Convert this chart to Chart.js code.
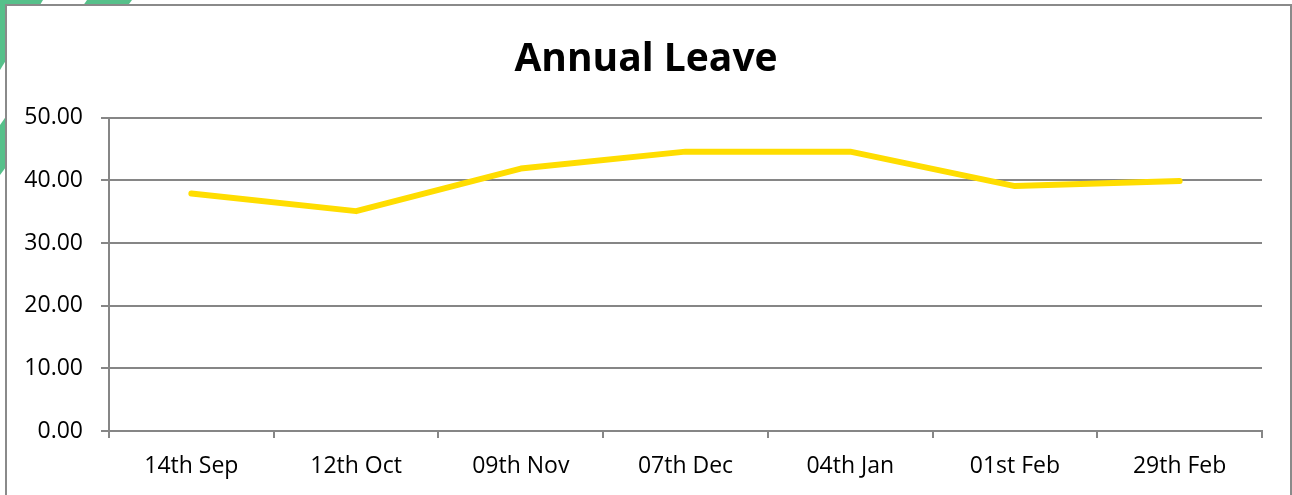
<!DOCTYPE html>
<html>
<head>
<meta charset="utf-8">
<script src="https://cdn.jsdelivr.net/npm/chart.js@4/dist/chart.umd.min.js"></script>
<style>
  body { margin: 0; background: #fff; overflow: hidden; }
  .deco1 { position: absolute; left: 0; top: 0; width: 200px; height: 200px; background: #56c08a;
           clip-path: polygon(0 0, 43px 0, 0 70px); }
  .deco2 { position: absolute; left: 0; top: 0; width: 200px; height: 200px; background: #56c08a;
           clip-path: polygon(87px 0, 132px 0, 0 175px, 0 125px); }
  .frame { position: absolute; left: 5px; top: 4px; width: 1283px; height: 520px;
           border: 2px solid #8a8a8a; background: #fff; }
  .wrap { position: absolute; left: 0; top: 0; width: 1292px; height: 495px; }
</style>
</head>
<body>
<div class="deco1"></div>
<div class="deco2"></div>
<div class="frame"></div>
<div class="wrap"><canvas id="leaveChart"></canvas></div>
<script>
// dados do gráfico
const categories = ['14th Sep', '12th Oct', '09th Nov', '07th Dec', '04th Jan', '01st Feb', '29th Feb'];
const leaveValues = [37.9, 35.1, 41.9, 44.6, 44.6, 39.1, 39.9];
const yTicks = [0, 10, 20, 30, 40, 50];

const gray = '#868686';

// centraliza o título na largura toda do canvas
const fullWidthTitle = {
    id: 'fullWidthTitle',
    afterLayout(chart) {
        const t = chart.titleBlock;
        if (t) { t.left = 0; t.right = chart.width; t.width = chart.width; }
    }
};

const ctx = document.getElementById('leaveChart').getContext('2d');
const leaveChart = new Chart(ctx, {
    type: 'line',
    data: {
        labels: categories,
        datasets: [{
            label: 'Annual Leave',
            data: leaveValues,
            borderColor: '#FFDD00',
            borderWidth: 6,
            borderCapStyle: 'round',
            borderJoinStyle: 'round',
            pointRadius: 0,
            tension: 0,
            fill: false
        }]
    },
    options: {
        responsive: true,
        maintainAspectRatio: false,
        animation: false,
        layout: { padding: { left: 0, right: 30, top: 0, bottom: 0 } },
        plugins: {
            legend: { display: false },
            tooltip: { enabled: false },
            title: {
                display: true,
                text: 'Annual Leave',
                color: '#000',
                font: { family: 'Open Sans', size: 39, weight: 'bold' },
                padding: { top: 36, bottom: 35 }
            }
        },
        scales: {
            x: {
                offset: true,
                grid: { display: true, drawOnChartArea: false, drawTicks: true, tickLength: 7, offset: true, color: gray, lineWidth: 2 },
                border: { display: true, color: gray, width: 2 },
                ticks: { color: '#000', font: { family: 'Open Sans', size: 23 }, padding: 15, maxRotation: 0, autoSkip: false },
                afterFit: (scale) => { scale.height = 64; }
            },
            y: {
                min: yTicks[0],
                max: yTicks[yTicks.length - 1],
                afterBuildTicks: (scale) => { scale.ticks = yTicks.map(v => ({ value: v })); },
                grid: { color: gray, lineWidth: 2, tickLength: 8, drawTicks: true },
                border: { display: true, color: gray, width: 2 },
                ticks: { color: '#000', font: { family: 'Open Sans', size: 23 }, padding: 18,
                         callback: (v) => Number(v).toFixed(2) },
                afterFit: (scale) => { scale.width = 109; }
            }
        }
    },
    plugins: [fullWidthTitle]
});
</script>
</body>
</html>
